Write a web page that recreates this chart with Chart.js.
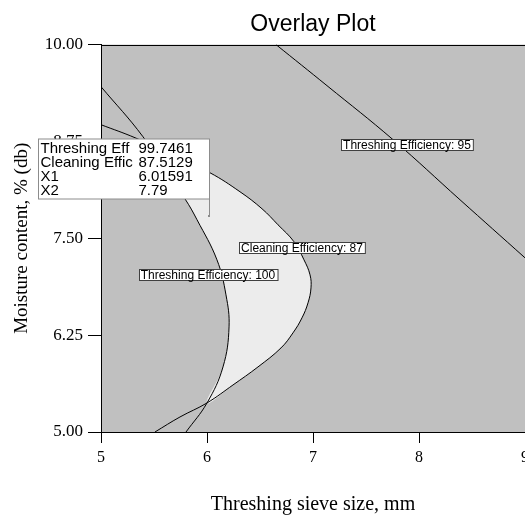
<!DOCTYPE html>
<html>
<head>
<meta charset="utf-8">
<script src="https://cdn.jsdelivr.net/npm/chart.js@4/dist/chart.umd.min.js"></script>
<style>
  html, body { margin: 0; padding: 0; background: #fff; overflow: hidden; }
  #wrap { width: 525px; height: 517px; overflow: hidden; }
</style>
</head>
<body>
<div id="wrap"><canvas id="chart" width="545" height="517"></canvas></div>
<script>
// axis ranges
const xRange = [5, 9];
const yRange = [5, 10];

// contour: Threshing Efficiency = 95
const te95X = [6.651, 7.132, 7.755, 8.387, 9.0];
const te95Y = [10.0, 9.470, 8.773, 7.997, 7.248];

// contour: Threshing Efficiency = 100
const te100X = [5.000, 5.396, 5.792, 5.906, 6.094, 6.179, 6.208, 6.151, 6.000, 5.802];
const te100Y = [9.457, 8.811, 8.010, 7.739, 7.222, 6.770, 6.357, 5.840, 5.375, 5.000];

// contour: Cleaning Efficiency = 87
const ce87X = [5.000, 5.321, 5.670, 6.028, 6.311, 6.519, 6.670, 6.821, 6.915, 6.972, 6.981, 6.953, 6.896, 6.811, 6.698, 6.481, 6.245, 6.000, 5.745, 5.509];
const ce87Y = [8.966, 8.798, 8.579, 8.346, 8.101, 7.881, 7.674, 7.455, 7.222, 7.028, 6.860, 6.667, 6.473, 6.279, 6.085, 5.840, 5.607, 5.375, 5.194, 5.000];

// feasible region (between the two contours)
const regionX = [5.443, 5.670, 6.028, 6.311, 6.519, 6.670, 6.821, 6.915, 6.972, 6.981, 6.953, 6.896, 6.811, 6.698, 6.481, 6.245, 6.000,
                 6.151, 6.208, 6.179, 6.094, 5.906, 5.792, 5.562];
const regionY = [8.721, 8.579, 8.346, 8.101, 7.881, 7.674, 7.455, 7.222, 7.028, 6.860, 6.667, 6.473, 6.279, 6.085, 5.840, 5.607, 5.375,
                 5.840, 6.357, 6.770, 7.222, 7.739, 8.010, 8.475];

// contour labels
const contourNames = ['Threshing Efficiency: 95', 'Cleaning Efficiency: 87', 'Threshing Efficiency: 100'];

// flag point
const flagNames = ['Threshing Eff', 'Cleaning Effic', 'X1', 'X2'];
const flagValues = ['99.7461', '87.5129', '6.01591', '7.79'];
const flagX = 6.01591;
const flagY = 7.79;

function pts(xs, ys) {
  return xs.map((x, i) => ({ x: x, y: ys[i] }));
}

const sans = '"Liberation Sans", Arial, sans-serif';
const serif = '"Liberation Serif", "Times New Roman", serif';

// where each contour label sits (data coords)
const labelAnchors = [[7.887, 8.708], [6.896, 7.377], [6.009, 7.028]];

const overlayPlugin = {
  id: 'overlay',
  beforeDraw(chart) {
    const { ctx, chartArea: a } = chart;
    ctx.save();
    ctx.fillStyle = '#c0c0c0';
    ctx.fillRect(a.left, a.top, a.right - a.left, a.bottom - a.top);
    ctx.restore();
  },
  afterDatasetsDraw(chart) {
    const { ctx, chartArea: a } = chart;
    const xs = chart.scales.x, ys = chart.scales.y;
    ctx.save();

    // top frame line
    ctx.strokeStyle = '#000';
    ctx.lineWidth = 1;
    ctx.beginPath();
    ctx.moveTo(a.left, Math.round(a.top) + 0.5);
    ctx.lineTo(a.right, Math.round(a.top) + 0.5);
    ctx.stroke();

    // contour labels
    ctx.font = '12px ' + sans;
    ctx.textAlign = 'center';
    ctx.textBaseline = 'middle';
    contourNames.forEach((txt, i) => {
      const cx = xs.getPixelForValue(labelAnchors[i][0]);
      const cy = ys.getPixelForValue(labelAnchors[i][1]);
      const w = ctx.measureText(txt).width + 4;
      const h = 11;
      const l = Math.round(cx - w / 2) + 0.5, t = Math.round(cy - h / 2) + 0.5;
      ctx.fillStyle = '#fff';
      ctx.fillRect(l, t, w, h);
      ctx.strokeStyle = '#404040';
      ctx.strokeRect(l, t, w, h);
      ctx.fillStyle = '#000';
      ctx.fillText(txt, cx, cy + 0.5);
    });

    // flag box
    const px = Math.round(xs.getPixelForValue(flagX)) + 0.5;
    const py = Math.round(ys.getPixelForValue(flagY));
    const bw = 171, bh = 60;
    const br = px, bb = py - 17;
    const bl = br - bw, bt = bb - bh;
    ctx.strokeStyle = '#8c8c8c';
    ctx.beginPath();
    ctx.moveTo(px, bb);
    ctx.lineTo(px, py);
    ctx.stroke();
    ctx.fillStyle = '#8c8c8c';
    ctx.fillRect(px - 1.5, py - 1, 2, 2);
    ctx.fillStyle = '#fff';
    ctx.fillRect(bl, bt, bw, bh);
    ctx.strokeRect(bl, bt, bw, bh);
    ctx.fillStyle = '#000';
    ctx.font = '15px ' + sans;
    ctx.textAlign = 'left';
    ctx.textBaseline = 'alphabetic';
    flagNames.forEach((n, i) => {
      const by = bt + 14 + i * 14;
      ctx.fillText(n, bl + 2, by);
      ctx.fillText(flagValues[i], bl + 100, by);
    });
    ctx.restore();
  }
};

const lineStyle = {
  showLine: true,
  borderColor: '#000',
  borderWidth: 1,
  pointRadius: 0,
  tension: 0.4,
  fill: false,
  order: 0
};

new Chart(document.getElementById('chart'), {
  type: 'scatter',
  data: {
    datasets: [
      Object.assign({ label: 'Threshing Efficiency 95', data: pts(te95X, te95Y) }, lineStyle),
      Object.assign({ label: 'Threshing Efficiency 100', data: pts(te100X, te100Y) }, lineStyle),
      Object.assign({ label: 'Cleaning Efficiency 87', data: pts(ce87X, ce87Y) }, lineStyle),
      {
        label: 'Region',
        data: pts(regionX, regionY),
        showLine: true,
        borderWidth: 0,
        borderColor: 'rgba(0,0,0,0)',
        backgroundColor: '#ececec',
        pointRadius: 0,
        tension: 0.4,
        fill: 'shape',
        order: 10
      }
    ]
  },
  options: {
    responsive: false,
    animation: false,
    layout: { padding: { left: 0, right: 20, top: 0, bottom: 0 } },
    plugins: {
      legend: { display: false },
      tooltip: { enabled: false },
      title: {
        display: true,
        text: 'Overlay Plot',
        fullSize: false,
        color: '#000',
        font: { family: sans, size: 23, weight: 'normal' },
        padding: { top: 11, bottom: 6 }
      }
    },
    scales: {
      x: {
        type: 'linear',
        min: xRange[0],
        max: xRange[1],
        ticks: { stepSize: 1, color: '#000', font: { family: serif, size: 16 }, padding: 5 },
        grid: { drawOnChartArea: false, tickLength: 11, color: '#000' },
        border: { color: '#000', width: 1 },
        title: {
          display: true,
          text: 'Threshing sieve size, mm',
          color: '#000',
          font: { family: serif, size: 20 },
          padding: { top: 0, bottom: 0 }
        },
        afterFit(scale) { scale.height = 85; }
      },
      y: {
        type: 'linear',
        min: yRange[0],
        max: yRange[1],
        ticks: {
          stepSize: 1.25,
          color: '#000',
          font: { family: serif, size: 17 },
          padding: 5,
          callback: v => v.toFixed(2)
        },
        grid: { drawOnChartArea: false, tickLength: 13, color: '#000' },
        border: { color: '#000', width: 1 },
        title: {
          display: true,
          text: 'Moisture content, % (db)',
          color: '#000',
          font: { family: serif, size: 19 },
          padding: { top: 11, bottom: 0 }
        },
        afterFit(scale) { scale.width = 101; }
      }
    }
  },
  plugins: [overlayPlugin]
});
</script>
</body>
</html>
